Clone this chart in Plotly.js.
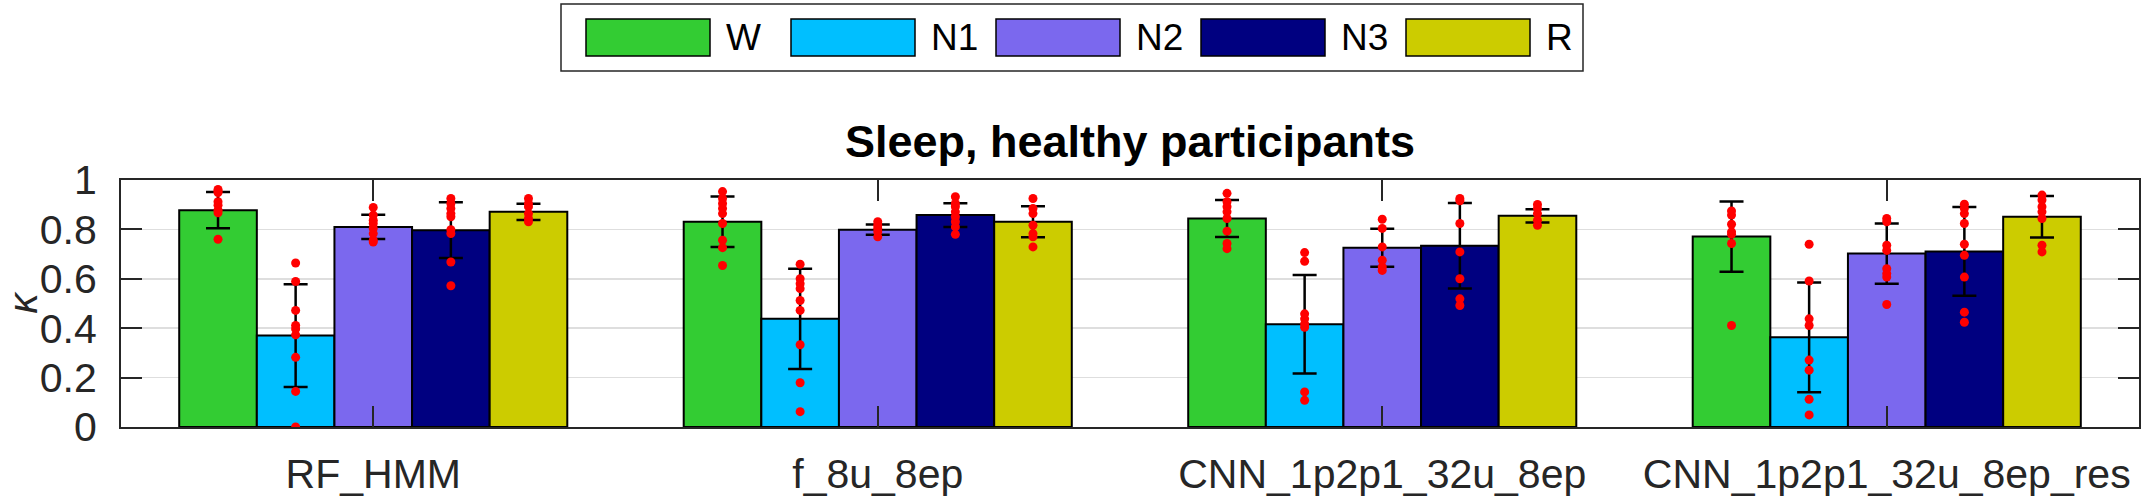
<!DOCTYPE html>
<html>
<head>
<meta charset="utf-8">
<script src="https://cdn.plot.ly/plotly-3.0.1.min.js"></script>
<style>html,body{margin:0;padding:0;background:#fff;}#chart{width:2144px;height:499px;}</style>
</head>
<body>
<div id="chart"></div>
<script>
// ---------- data ----------
const categories = ['RF_HMM', 'f_8u_8ep', 'CNN_1p2p1_32u_8ep', 'CNN_1p2p1_32u_8ep_res'];
const stages = ['W', 'N1', 'N2', 'N3', 'R'];

const meanW  = [0.878, 0.831, 0.844, 0.771];
const meanN1 = [0.370, 0.438, 0.416, 0.363];
const meanN2 = [0.810, 0.799, 0.726, 0.702];
const meanN3 = [0.797, 0.858, 0.734, 0.711];
const meanR  = [0.871, 0.831, 0.855, 0.851];

const sdW  = [0.073, 0.102, 0.075, 0.142];
const sdN1 = [0.208, 0.203, 0.199, 0.222];
const sdN2 = [0.049, 0.021, 0.077, 0.122];
const sdN3 = [0.113, 0.048, 0.173, 0.180];
const sdR  = [0.033, 0.063, 0.027, 0.084];

const dotsW = [
  [0.962, 0.955, 0.949, 0.912, 0.898, 0.878, 0.867, 0.760],
  [0.953, 0.925, 0.905, 0.885, 0.864, 0.824, 0.756, 0.726, 0.654],
  [0.946, 0.912, 0.892, 0.871, 0.844, 0.793, 0.743, 0.722],
  [0.875, 0.858, 0.821, 0.790, 0.780, 0.743, 0.411]
];
const dotsN1 = [
  [0.664, 0.589, 0.472, 0.411, 0.397, 0.373, 0.282, 0.144, 0.000],
  [0.659, 0.600, 0.580, 0.560, 0.512, 0.472, 0.333, 0.179, 0.062],
  [0.706, 0.671, 0.458, 0.438, 0.417, 0.404, 0.142, 0.108],
  [0.740, 0.591, 0.438, 0.411, 0.271, 0.230, 0.112, 0.049]
];
const dotsN2 = [
  [0.889, 0.858, 0.837, 0.824, 0.804, 0.783, 0.756, 0.749],
  [0.831, 0.817, 0.804, 0.790, 0.770],
  [0.841, 0.804, 0.729, 0.675, 0.648, 0.634],
  [0.844, 0.831, 0.736, 0.715, 0.641, 0.621, 0.607, 0.496]
];
const dotsN3 = [
  [0.925, 0.905, 0.885, 0.864, 0.851, 0.799, 0.783, 0.668, 0.572],
  [0.932, 0.905, 0.892, 0.871, 0.851, 0.831, 0.810, 0.780],
  [0.925, 0.916, 0.824, 0.709, 0.600, 0.519, 0.492],
  [0.902, 0.885, 0.864, 0.824, 0.740, 0.695, 0.607, 0.465, 0.424]
];
const dotsR = [
  [0.925, 0.905, 0.892, 0.864, 0.844, 0.831],
  [0.925, 0.885, 0.864, 0.817, 0.783, 0.770, 0.729],
  [0.901, 0.885, 0.864, 0.837, 0.817],
  [0.939, 0.919, 0.892, 0.871, 0.844, 0.736, 0.709]
];

const yTicks = [0, 0.2, 0.4, 0.6, 0.8, 1];
const yTickText = ['0', '0.2', '0.4', '0.6', '0.8', '1'];

// ---------- styling ----------
const FONT = 'Liberation Sans, Arial, Helvetica, sans-serif';
const AX = '#262626';
const colors = ['#33CC33', '#00BFFF', '#7B68EE', '#000080', '#CCCC00'];
const means = [meanW, meanN1, meanN2, meanN3, meanR];
const sds = [sdW, sdN1, sdN2, sdN3, sdR];
const dots = [dotsW, dotsN1, dotsN2, dotsN3, dotsR];

const W = 2144, H = 499;
const M = {l: 121, r: 5, t: 180, b: 72};
const nS = stages.length;
const groupWidth = Math.min(0.8, nS / (nS + 1.5));
const bw = groupWidth / nS;
const pos = categories.map((c, i) => i + 1);
const offsetOf = k => -groupWidth / 2 + k * bw;

const traces = [];
// bars
stages.forEach((s, k) => {
  traces.push({
    type: 'bar', name: s, x: pos, y: means[k],
    offset: offsetOf(k), width: bw,
    marker: {color: colors[k], line: {color: '#000', width: 2}},
    showlegend: false, hoverinfo: 'y'
  });
});
// error bars
stages.forEach((s, k) => {
  traces.push({
    type: 'scatter', mode: 'markers', name: s + ' sd',
    x: pos.map(p => p + offsetOf(k) + bw / 2), y: means[k],
    marker: {size: 1, color: 'rgba(0,0,0,0)'},
    error_y: {type: 'data', array: sds[k], visible: true, color: '#000', thickness: 2.5, width: 12},
    showlegend: false, hoverinfo: 'skip'
  });
});
// individual participant dots
stages.forEach((s, k) => {
  const xs = [], ys = [];
  dots[k].forEach((arr, g) => arr.forEach(v => { xs.push(pos[g] + offsetOf(k) + bw / 2); ys.push(v); }));
  traces.push({
    type: 'scatter', mode: 'markers', name: s + ' participants',
    x: xs, y: ys,
    marker: {size: 9, color: '#FF0000'},
    showlegend: false, hoverinfo: 'y'
  });
});

// ---------- manual legend (MATLAB-style wide swatches) ----------
const plotW = W - M.l - M.r, plotH = H - M.t - M.b;
const px = x => (x - M.l) / plotW;
const py = y => (H - M.b - y) / plotH;
const leg = {x0: 561, x1: 1583, y0: 4, y1: 71, first: 586, step: 205, sw: 124, sh: 37, gap: 14};
const shapes = [{
  type: 'rect', xref: 'paper', yref: 'paper',
  x0: px(leg.x0), x1: px(leg.x1), y0: py(leg.y1), y1: py(leg.y0),
  line: {color: AX, width: 1.5}, fillcolor: '#fff', layer: 'above'
}];
const annotations = [];
const cy = (leg.y0 + leg.y1) / 2;
stages.forEach((s, k) => {
  const sx = leg.first + k * leg.step;
  shapes.push({
    type: 'rect', xref: 'paper', yref: 'paper',
    x0: px(sx), x1: px(sx + leg.sw), y0: py(cy + leg.sh / 2), y1: py(cy - leg.sh / 2),
    line: {color: '#000', width: 1.5}, fillcolor: colors[k], layer: 'above'
  });
  annotations.push({
    xref: 'paper', yref: 'paper', x: px(sx + leg.sw + leg.gap), y: py(cy),
    xanchor: 'left', yanchor: 'middle', showarrow: false, text: s,
    font: {family: FONT, size: 37, color: '#000'}
  });
});

const layout = {
  width: W, height: H,
  margin: {l: M.l, r: M.r, t: M.t, b: M.b, pad: 0},
  paper_bgcolor: '#fff', plot_bgcolor: '#fff',
  font: {family: FONT, color: AX},
  barmode: 'overlay',
  showlegend: false,
  title: {
    text: '<b>Sleep, healthy participants</b>',
    font: {family: FONT, size: 45, color: '#000'},
    xref: 'paper', x: 0.5, xanchor: 'center',
    yref: 'container', y: 1 - 141 / H, yanchor: 'middle'
  },
  xaxis: {
    range: [0.5, 4.5], tickmode: 'array', tickvals: pos, ticktext: categories,
    ticks: 'inside', ticklen: 21, tickwidth: 2, tickcolor: AX,
    showline: true, linecolor: AX, linewidth: 2, mirror: 'ticks',
    showgrid: false, zeroline: false,
    tickfont: {family: FONT, size: 41, color: AX},
    ticklabelstandoff: 10
  },
  yaxis: {
    range: [0, 1], tickmode: 'array', tickvals: yTicks, ticktext: yTickText,
    ticks: 'inside', ticklen: 21, tickwidth: 2, tickcolor: AX,
    showline: true, linecolor: AX, linewidth: 2, mirror: 'ticks',
    showgrid: true, gridcolor: '#DEDEDE', gridwidth: 1.5, zeroline: false,
    tickfont: {family: FONT, size: 41, color: AX},
    ticklabelstandoff: 14,
    title: {text: '<i>κ</i>', font: {family: FONT, size: 41, color: AX}, standoff: 12}
  },
  shapes: shapes,
  annotations: annotations
};

Plotly.newPlot('chart', traces, layout, {staticPlot: true, displayModeBar: false});
</script>
</body>
</html>
